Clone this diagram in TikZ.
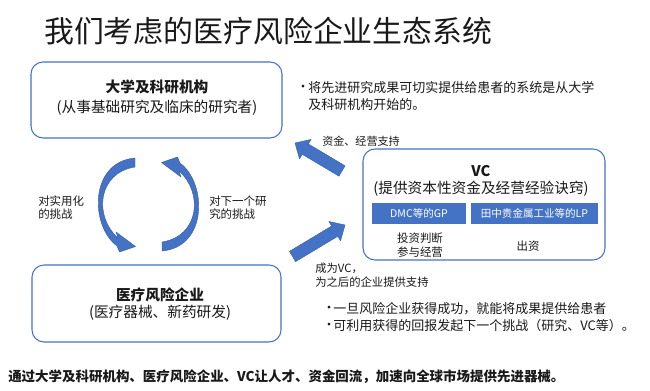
\documentclass[tikz,border=0pt]{standalone}
\usepackage{fontspec}
\setmainfont{Noto Sans CJK SC}
\usetikzlibrary{calc}
\definecolor{myblue}{RGB}{68,114,196}
\definecolor{edgeblue}{RGB}{52,92,165}
\definecolor{txt}{RGB}{25,25,25}
\newcommand\fpx[1]{\fontsize{#1}{#1}\selectfont}
\newcommand\fpxl[2]{\fontsize{#1}{#2}\selectfont}
\tikzset{
  roundbox/.style={draw=myblue, line width=0.8pt, rounded corners=9pt, inner sep=0pt},
  bluebar/.style={fill=myblue, draw=none, inner sep=0pt, text=white, font=\fpx{7.9pt}},
  lbl/.style={inner sep=0pt, text=txt},
  arrowfill/.style={fill=myblue, draw=edgeblue, line width=0.3pt, line join=round},
}
\newcommand\cyclearrowpath{(162,242) .. controls (200,236) and (203,192) .. (179,171) -- (181,177) -- (161.5,162.5) -- (177.5,157) -- (180,163) .. controls (207,183) and (208,247) .. (162,251) -- cycle}
\newcommand\blockarrow[2]{% tail, tip
  \coordinate (#1b) at ($(#2)!9pt!(#1)$);
  \fill[arrowfill] ($(#1)!4.5pt!90:(#2)$) -- ($(#1b)!4.5pt!-90:(#1)$) -- ($(#1b)!8.5pt!-90:(#1)$) -- (#2)
     -- ($(#1b)!8.5pt!90:(#1)$) -- ($(#1b)!4.5pt!90:(#1)$) -- ($(#1)!4.5pt!-90:(#2)$) -- cycle;
}
\begin{document}
\begin{tikzpicture}[x=0.75pt,y=-0.75pt]
\fill[white] (0,0) rectangle (650,391);
\useasboundingbox (0,0) rectangle (650,391);

% title
\node[lbl, anchor=west, font=\fpx{22.4pt}] (title) at (44,31) {我们考虑的医疗风险企业生态系统};

% boxes
\node[roundbox, minimum width=188.25pt, minimum height=57pt] (univ) at (156.5,100) {};
\node[lbl, font=\fpx{11pt}\bfseries] (univt) at (157,87) {大学及科研机构};
\node[lbl, font=\fpx{11pt}] (univs) at (157,108) {(从事基础研究及临床的研究者)};

\node[roundbox, minimum width=186.75pt, minimum height=57.75pt] (vent) at (156.5,303.5) {};
\node[lbl, font=\fpx{11pt}\bfseries] (ventt) at (160,295) {医疗风险企业};
\node[lbl, font=\fpx{11pt}] (vents) at (160,313) {(医疗器械、新药研发)};

\node[roundbox, minimum width=181.5pt, minimum height=83.25pt] (vc) at (484,204.5) {};
\node[lbl, font=\fpx{11pt}\bfseries] (vct) at (481,171) {VC};
\node[lbl, font=\fpx{11pt}] (vcs) at (481,189) {(提供资本性资金及经营经验诀窍)};
\node[bluebar, minimum width=70.5pt, minimum height=15.75pt] (gp) at (419,213.5) {DMC等的GP};
\node[bluebar, minimum width=95.25pt, minimum height=15.75pt] (lp) at (534.5,213.5) {田中贵金属工业等的LP};
\node[lbl, font=\fpxl{8.6pt}{10.5pt}, align=center] (gpt) at (420,245) {投资判断\\参与经营};
\node[lbl, font=\fpx{8.6pt}] (lpt) at (528,246) {出资};

% notes
\node[lbl, font=\fpx{9.75pt}] (b0) at (303,88) {·};
\node[lbl, anchor=west, font=\fpx{9.75pt}] (n1) at (308,88) {将先进研究成果可切实提供给患者的系统是从大学};
\node[lbl, anchor=west, font=\fpx{9.75pt}] (n2) at (308,105) {及科研机构开始的。};

\node[lbl, anchor=west, font=\fpx{8.3pt}] (fund) at (322,141) {资金、经营支持};
\node[lbl, anchor=west, font=\fpx{8.5pt}] (bvc1) at (315,268) {成为VC，};
\node[lbl, anchor=west, font=\fpx{8.5pt}] (bvc2) at (315,282) {为之后的企业提供支持};

\node[lbl, font=\fpx{9.75pt}] (b1) at (329,309) {·};
\node[lbl, anchor=west, font=\fpx{9.75pt}] (m1) at (333,309) {一旦风险企业获得成功，就能将成果提供给患者};
\node[lbl, font=\fpx{9.75pt}] (b2) at (329,326) {·};
\node[lbl, anchor=west, font=\fpx{9.75pt}] (m2) at (333,326) {可利用获得的回报发起下一个挑战（研究、VC等）。};

\node[lbl, anchor=west, font=\fpxl{8.6pt}{9.9pt}, align=left] (c1) at (38,207.5) {对实用化\\的挑战};
\node[lbl, anchor=west, font=\fpxl{8.6pt}{9.9pt}, align=left] (c2) at (209,207.5) {对下一个研\\究的挑战};

\node[lbl, anchor=west, font=\fpx{10.1pt}\bfseries] (bottom) at (8,377) {通过大学及科研机构、医疗风险企业、VC让人才、资金回流，加速向全球市场提供先进器械。};

% cycle arrows
\filldraw[arrowfill] \cyclearrowpath;
\filldraw[arrowfill, rotate around={180:(148.5,204.5)}] \cyclearrowpath;

% block arrows
\coordinate (ua) at (342,171);
\coordinate (ub) at (295,143);
\blockarrow{ua}{ub}
\coordinate (la) at (292.5,256.5);
\coordinate (lb) at (345,225);
\blockarrow{la}{lb}
\end{tikzpicture}
\end{document}
